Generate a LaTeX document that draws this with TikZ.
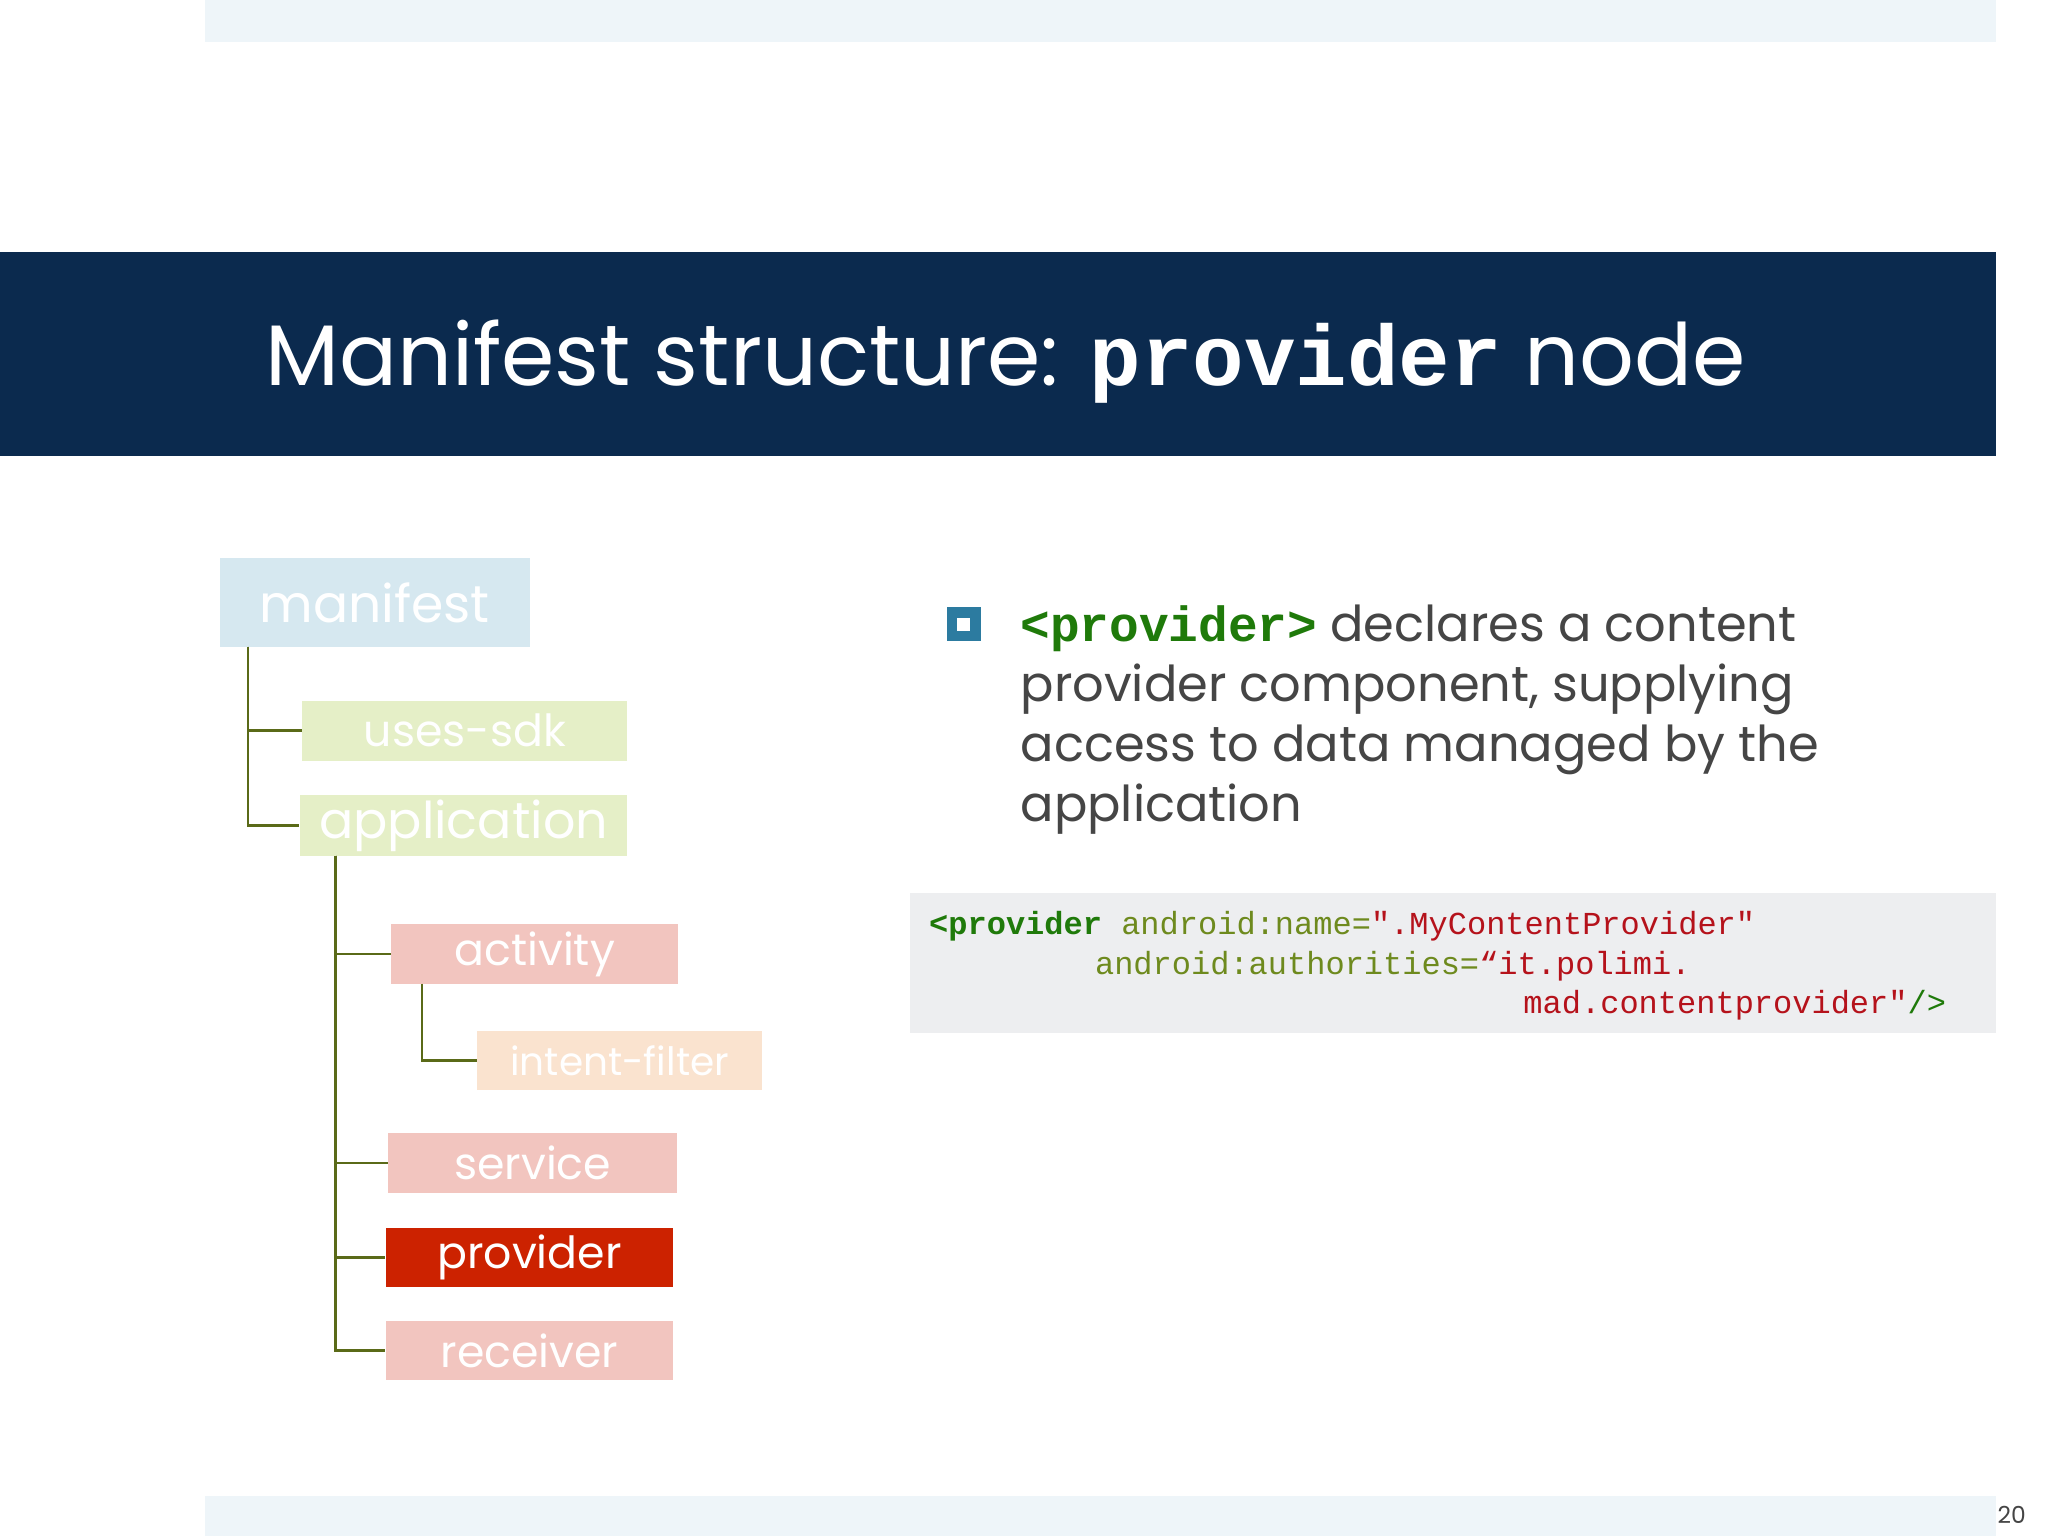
\documentclass[tikz,border=0pt]{standalone}
\usepackage{fontspec}
\setmainfont{Poppins}
\setmonofont{Liberation Mono}
\definecolor{bar}{HTML}{0B2A4E}
\definecolor{band}{HTML}{EEF5F9}
\definecolor{lblue}{HTML}{D6E8F0}
\definecolor{lgreen}{HTML}{E5EFC7}
\definecolor{lpink}{HTML}{F2C5BF}
\definecolor{lpeach}{HTML}{FAE3CF}
\definecolor{red1}{HTML}{CC2200}
\definecolor{olive}{HTML}{5A6A18}
\definecolor{txt}{HTML}{454545}
\definecolor{codebg}{HTML}{EDEEF0}
\definecolor{cgreen}{HTML}{1F7A0A}
\definecolor{catt}{HTML}{6E8A1E}
\definecolor{cred}{HTML}{B5121B}
\definecolor{bul}{HTML}{2C7BA0}
\begin{document}
\begin{tikzpicture}[x=0.5bp,y=-0.5bp,
 box/.style={anchor=north west,minimum width=#1*0.5bp,inner sep=0pt,text=white,font=\fontsize{17}{17}\selectfont},
 tl/.style={olive,line width=1pt},
 cd/.style={anchor=west,inner sep=0pt,font=\ttfamily\fontsize{12.3}{15}\selectfont}]
\useasboundingbox (0,0) rectangle (1568,1176);
\fill[white] (0,0) rectangle (1568,1176);
\fill[band] (157,0) rectangle (1528,32);
\fill[band] (157,1145) rectangle (1528,1176);
\fill[bar] (0,193) rectangle (1528,349);
\node[text=white,font=\fontsize{33}{33}\selectfont] (title) at (770,277) {Manifest structure: {\ttfamily\bfseries provider} node};
% tree boxes
\node[box=237,fill=lblue,minimum height=34bp,font=\fontsize{20}{20}\selectfont] (man) at (168,427) {manifest};
\node[box=249,fill=lgreen,minimum height=23bp] (sdk) at (231,536) {uses-sdk};
\node[box=251,fill=lgreen,minimum height=23.5bp,font=\fontsize{19.5}{19.5}\selectfont] (app) at (229,608) {application};
\node[box=220,fill=lpink,minimum height=23bp] (act) at (299,707) {activity};
\node[box=218,fill=lpeach,minimum height=22.5bp,font=\fontsize{15}{15}\selectfont] (intf) at (365,789) {intent-filter};
\node[box=221,fill=lpink,minimum height=23bp] (srv) at (297,867) {service};
\node[box=220,fill=red1,minimum height=22.5bp] (prov) at (295,940) {provider};
\node[box=220,fill=lpink,minimum height=22.5bp] (rec) at (295,1011) {receiver};
% connectors
\coordinate (m0) at (190,495);
\draw[tl] (m0) |- (sdk.west);
\draw[tl] (m0) |- (app.west);
\coordinate (a0) at (257,655);
\draw[tl] (a0) |- (act.west);
\draw[tl] (a0) |- (srv.west);
\draw[tl] (a0) |- (prov.west);
\draw[tl] (a0) |- (rec.west);
\coordinate (c0) at (323,753);
\draw[tl] (c0) |- (intf.west);
% bullet
\node[draw=bul,line width=4bp,minimum size=9bp,inner sep=0pt,fill=white] (bl) at (738,478) {};
\node[anchor=north west,text=txt,align=left,font=\fontsize{19}{23}\selectfont,inner sep=0pt] (body) at (781,463)
 {{\color{cgreen}\ttfamily\bfseries <provider>} declares a content\\provider component, supplying\\access to data managed by the\\application};
% code
\fill[codebg] (697,684) rectangle (1528,791);
\node[cd] (c1) at (711,709) {{\color{cgreen}\bfseries <provider} {\color{catt}android:name=}{\color{cred}".MyContentProvider"}};
\node[cd] (c2) at (838,740) {{\color{catt}android:authorities=}{\color{cred}“it.polimi.}};
\node[cd] (c3) at (1166,770) {{\color{cred}mad.contentprovider"}{\color{cgreen}/>}};
\node[anchor=east,text=txt,font=\fontsize{9}{9}\selectfont] (pg) at (1558,1160) {20};
\end{tikzpicture}
\end{document}
